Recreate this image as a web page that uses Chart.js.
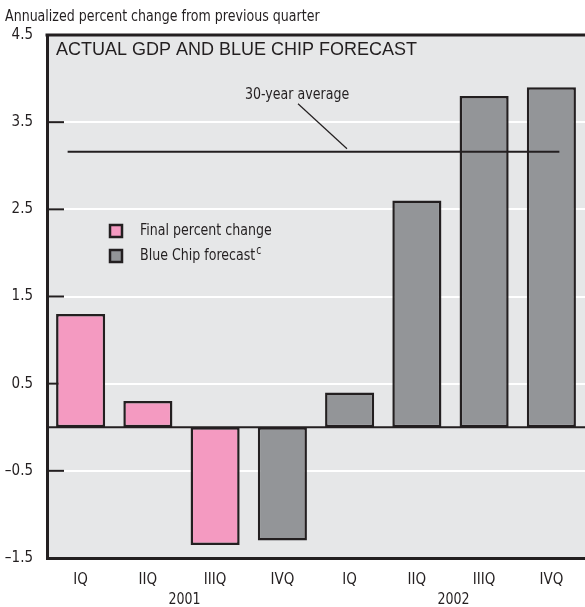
<!DOCTYPE html>
<html>
<head>
<meta charset="utf-8">
<title>Actual GDP and Blue Chip forecast</title>
<style>
  html, body { margin: 0; padding: 0; background: #fff; }
  #wrap { width: 585px; height: 607px; }
</style>
</head>
<body>
<div id="wrap"><canvas id="c" width="585" height="607"></canvas></div>
<script src="https://cdn.jsdelivr.net/npm/chart.js"></script>
<script>
// chart values
var quarters = ["IQ", "IIQ", "IIIQ", "IVQ", "IQ", "IIQ", "IIIQ", "IVQ"];
var years = ["2001", "2002"];
var finalChange = [1.3, 0.3, -1.35, null, null, null, null, null];
var blueChip = [null, null, null, -1.3, 0.4, 2.6, 3.8, 3.9];
var thirtyYearAvg = 3.16;
var yTicks = [-1.5, -0.5, 0.5, 1.5, 2.5, 3.5, 4.5];

var narrow = "'Liberation Sans Narrow', 'DejaVu Sans Condensed', sans-serif";
var dark = "#231f20";

// squeezed text, to get closer to the condensed face of the original
function narrowText(ctx, txt, x, y, size, align) {
    ctx.save();
    ctx.font = size + "px " + narrow;
    ctx.textAlign = align || "left";
    ctx.textBaseline = "middle";
    ctx.translate(x, y);
    ctx.scale(0.85, 1);
    ctx.fillText(txt, 0, 0);
    var w = ctx.measureText(txt).width * 0.85;
    ctx.restore();
    return w;
}

var decor = {
    id: "decor",
    beforeDraw: function (chart) {
        var ctx = chart.ctx, a = chart.chartArea;
        ctx.save();
        ctx.fillStyle = "#e6e7e8";
        ctx.fillRect(a.left, a.top, a.right - a.left, a.bottom - a.top);
        ctx.restore();
    },
    beforeDatasetsDraw: function (chart) {
        var ctx = chart.ctx, a = chart.chartArea, y = chart.scales.y;
        ctx.save();
        // inward tick marks
        ctx.strokeStyle = dark;
        ctx.lineWidth = 2;
        yTicks.forEach(function (v) {
            var py = y.getPixelForValue(v);
            ctx.beginPath();
            ctx.moveTo(a.left, py);
            ctx.lineTo(a.left + 17, py);
            ctx.stroke();
        });
        ctx.restore();
    },
    afterDatasetsDraw: function (chart) {
        var ctx = chart.ctx, a = chart.chartArea, x = chart.scales.x, y = chart.scales.y;
        ctx.save();
        ctx.strokeStyle = dark;
        ctx.fillStyle = dark;
        // zero line
        ctx.lineWidth = 2;
        var z = y.getPixelForValue(0);
        ctx.beginPath(); ctx.moveTo(a.left, z); ctx.lineTo(a.right, z); ctx.stroke();
        // top border
        ctx.lineWidth = 3;
        ctx.beginPath(); ctx.moveTo(a.left - 1.5, a.top); ctx.lineTo(a.right, a.top); ctx.stroke();
        // 30-year average
        ctx.lineWidth = 2;
        var av = y.getPixelForValue(thirtyYearAvg);
        var x0 = x.getPixelForValue(0) - 13, x1 = x.getPixelForValue(7) + 8;
        ctx.beginPath(); ctx.moveTo(x0, av); ctx.lineTo(x1, av); ctx.stroke();
        ctx.lineWidth = 1.2;
        ctx.beginPath(); ctx.moveTo(298, av - 48); ctx.lineTo(347, av - 3); ctx.stroke();
        narrowText(ctx, "30-year average", 245, av - 57, 16.5);

        // title
        ctx.font = "18px 'Liberation Sans', Arial, sans-serif";
        ctx.textBaseline = "middle";
        ctx.textAlign = "left";
        ctx.fillText("ACTUAL GDP AND BLUE CHIP FORECAST", a.left + 9, a.top + 15);

        // legend
        var items = [["Final percent change", chart.data.datasets[0].backgroundColor, false],
                     ["Blue Chip forecast", chart.data.datasets[1].backgroundColor, true]];
        items.forEach(function (it, i) {
            var ly = 231 + i * 25;
            ctx.fillStyle = it[1];
            ctx.fillRect(110, ly - 6, 12, 12);
            ctx.lineWidth = 2.5;
            ctx.strokeStyle = dark;
            ctx.strokeRect(110, ly - 6, 12, 12);
            ctx.fillStyle = dark;
            var w = narrowText(ctx, it[0], 140, ly, 16.5);
            if (it[2]) {
                narrowText(ctx, "c", 141 + w, ly - 5, 12);
            }
        });

        // y axis caption
        narrowText(ctx, "Annualized percent change from previous quarter", 5, 17, 16.5);

        // years
        narrowText(ctx, years[0], (x.getPixelForValue(1) + x.getPixelForValue(2)) / 2 + 3, 600, 16.5, "center");
        narrowText(ctx, years[1], (x.getPixelForValue(5) + x.getPixelForValue(6)) / 2 + 3, 600, 16.5, "center");
        ctx.restore();
    }
};

new Chart(document.getElementById("c"), {
    type: "bar",
    data: {
        labels: quarters,
        datasets: [{
            label: "Final percent change",
            data: finalChange,
            backgroundColor: "#f49ac1",
            borderColor: dark,
            borderWidth: 2.5,
            borderSkipped: false
        }, {
            label: "Blue Chip forecast",
            data: blueChip,
            backgroundColor: "#939598",
            borderColor: dark,
            borderWidth: 2.5,
            borderSkipped: false
        }]
    },
    options: {
        responsive: false,
        animation: false,
        layout: { padding: { top: 35, right: 0, left: 0, bottom: 0 } },
        datasets: { bar: { grouped: false, categoryPercentage: 1, barPercentage: 0.73 } },
        scales: {
            x: {
                grid: { display: false },
                border: { display: true, color: dark, width: 3 },
                ticks: { color: dark, font: { family: narrow, size: 15 }, padding: 5, maxRotation: 0 },
                afterFit: function (s) { s.height = 49; }
            },
            y: {
                min: -1.5,
                max: 4.5,
                afterBuildTicks: function (s) { s.ticks = yTicks.map(function (v) { return { value: v }; }); },
                afterFit: function (s) { s.width = 47; },
                grid: {
                    drawTicks: false,
                    lineWidth: 2,
                    color: function (c) {
                        var v = c.tick ? c.tick.value : null;
                        return (v === -1.5 || v === 4.5) ? "rgba(0,0,0,0)" : "#ffffff";
                    }
                },
                border: { display: true, color: dark, width: 3 },
                ticks: {
                    color: dark,
                    padding: 14,
                    font: { family: narrow, size: 15 },
                    callback: function (v) { return v < 0 ? "\u2013" + Math.abs(v).toFixed(1) : v.toFixed(1); }
                }
            }
        },
        plugins: { legend: { display: false }, tooltip: { enabled: false } }
    },
    plugins: [decor]
});
</script>
</body>
</html>
